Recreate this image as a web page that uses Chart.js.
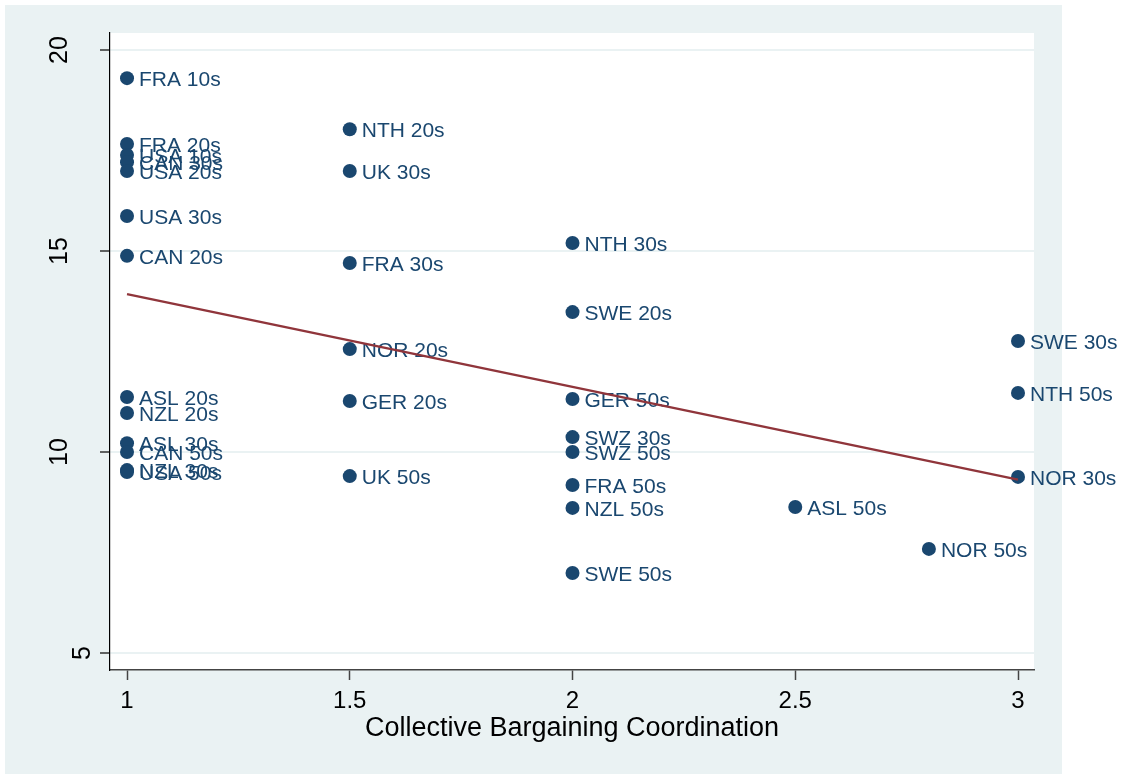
<!DOCTYPE html>
<html>
<head>
<meta charset="utf-8">
<title>Collective Bargaining Coordination</title>
<script src="https://cdn.jsdelivr.net/npm/chart.js@4.4.1/dist/chart.umd.min.js"></script>
<style>
  html, body { margin: 0; padding: 0; background: #ffffff; }
  #wrap { width: 1123px; height: 774px; }
  canvas { display: block; }
</style>
</head>
<body>
<div id="wrap"><canvas id="chart" width="1123" height="774"></canvas></div>
<script>
// Country-decade observations
const pointLabels = [
  'FRA 10s', 'FRA 20s', 'USA 10s', 'CAN 30s', 'USA 20s', 'USA 30s', 'CAN 20s',
  'ASL 20s', 'NZL 20s', 'ASL 30s', 'CAN 50s', 'NZL 30s', 'USA 50s',
  'NTH 20s', 'UK 30s', 'FRA 30s', 'NOR 20s', 'GER 20s', 'UK 50s',
  'NTH 30s', 'SWE 20s', 'GER 50s', 'SWZ 30s', 'SWZ 50s', 'FRA 50s', 'NZL 50s', 'SWE 50s',
  'ASL 50s', 'NOR 50s',
  'SWE 30s', 'NTH 50s', 'NOR 30s'
];
const coordination = [
  1, 1, 1, 1, 1, 1, 1,
  1, 1, 1, 1, 1, 1,
  1.5, 1.5, 1.5, 1.5, 1.5, 1.5,
  2, 2, 2, 2, 2, 2, 2, 2,
  2.5, 2.8,
  3, 3, 3
];
const outcome = [
  19.30, 17.66, 17.39, 17.21, 16.99, 15.87, 14.88,
  11.37, 10.97, 10.22, 10.00, 9.55, 9.50,
  18.03, 16.99, 14.70, 12.56, 11.27, 9.40,
  15.20, 13.48, 11.32, 10.37, 10.00, 9.18, 8.61, 6.99,
  8.63, 7.59,
  12.76, 11.47, 9.38
];

// Axis ticks
const xTickValues = [1, 1.5, 2, 2.5, 3];
const xTickLabels = ['1', '1.5', '2', '2.5', '3'];
const yTickValues = [5, 10, 15, 20];
const yTickLabels = ['5', '10', '15', '20'];

// Least-squares fit of outcome on coordination
function linearFit(xs, ys) {
  const n = xs.length;
  const mx = xs.reduce((a, b) => a + b, 0) / n;
  const my = ys.reduce((a, b) => a + b, 0) / n;
  let sxy = 0, sxx = 0;
  for (let i = 0; i < n; i++) {
    sxy += (xs[i] - mx) * (ys[i] - my);
    sxx += (xs[i] - mx) * (xs[i] - mx);
  }
  const b = sxy / sxx;
  return { a: my - b * mx, b: b };
}
const fit = linearFit(coordination, outcome);
const xMin = Math.min(...coordination), xMax = Math.max(...coordination);
const fitLine = [xMin, xMax].map(x => ({ x: x, y: fit.a + fit.b * x }));

const navy = '#1a476f';
const maroon = '#90353b';
const regionBg = '#eaf2f3';
const FONT = '"Liberation Sans", Arial, Helvetica, sans-serif';

// Backgrounds: outer graph region and white plot region
const backgroundPlugin = {
  id: 'regions',
  beforeDraw(chart) {
    const ctx = chart.ctx, a = chart.chartArea;
    ctx.save();
    ctx.fillStyle = '#ffffff';
    ctx.fillRect(0, 0, chart.width, chart.height);
    ctx.fillStyle = regionBg;
    ctx.fillRect(5, 5, 1057, chart.height - 5);
    ctx.fillStyle = '#ffffff';
    ctx.fillRect(a.left, a.top, a.right - a.left, a.bottom - a.top);
    ctx.restore();
  }
};

// Marker labels placed to the right of each point
const markerLabelPlugin = {
  id: 'markerLabels',
  afterDatasetDraw(chart, args) {
    if (args.index !== 0) return;
    const ctx = chart.ctx;
    const meta = args.meta;
    ctx.save();
    ctx.font = '21px ' + FONT;
    ctx.fillStyle = navy;
    ctx.textAlign = 'left';
    ctx.textBaseline = 'middle';
    meta.data.forEach((el, i) => {
      ctx.fillText(pointLabels[i], el.x + 12, el.y + 2);
    });
    ctx.restore();
  }
};

// Vertical (rotated) y-axis tick labels
const yLabelPlugin = {
  id: 'yLabels',
  afterDraw(chart) {
    const ctx = chart.ctx, ys = chart.scales.y;
    ctx.save();
    ctx.font = '25px ' + FONT;
    ctx.fillStyle = '#000000';
    ctx.textAlign = 'center';
    ctx.textBaseline = 'alphabetic';
    yTickValues.forEach((v, i) => {
      const txt = yTickLabels[i];
      const w = ctx.measureText(txt).width;
      const baseX = ys.right - 10 - 1.65 * w + 13;
      const py = ys.getPixelForValue(v);
      ctx.save();
      ctx.translate(baseX, py);
      ctx.rotate(-Math.PI / 2);
      ctx.fillText(txt, 0, 0);
      ctx.restore();
    });
    ctx.restore();
  }
};

new Chart(document.getElementById('chart'), {
  type: 'scatter',
  data: {
    datasets: [
      {
        label: 'Observed',
        data: coordination.map((x, i) => ({ x: x, y: outcome[i] })),
        backgroundColor: navy,
        borderWidth: 0,
        pointRadius: 7,
        pointHoverRadius: 7,
        order: 1
      },
      {
        label: 'Fitted values',
        data: fitLine,
        showLine: true,
        borderColor: maroon,
        borderWidth: 2.5,
        pointRadius: 0,
        fill: false,
        order: 0
      }
    ]
  },
  options: {
    responsive: false,
    animation: false,
    devicePixelRatio: 1,
    layout: { padding: { left: 0, top: 33, right: 89, bottom: 0 } },
    plugins: {
      legend: { display: false },
      tooltip: { enabled: false },
      title: { display: false }
    },
    scales: {
      x: {
        type: 'linear',
        min: 0.9618,
        max: 3.0359,
        afterBuildTicks(scale) { scale.ticks = xTickValues.map(v => ({ value: v })); },
        afterFit(scale) { scale.height = 104; },
        ticks: {
          callback(value) {
            const i = xTickValues.indexOf(value);
            return i >= 0 ? xTickLabels[i] : '';
          },
          font: { family: FONT, size: 24 },
          color: '#000000',
          padding: 7,
          maxRotation: 0,
          autoSkip: false
        },
        grid: {
          drawOnChartArea: false,
          drawTicks: true,
          tickLength: 10,
          tickColor: '#444444',
          tickWidth: 1.5
        },
        border: { display: true, color: '#444444', width: 1.5 },
        title: {
          display: true,
          text: 'Collective Bargaining Coordination',
          font: { family: FONT, size: 27 },
          color: '#000000',
          padding: { top: 0, bottom: 29 }
        }
      },
      y: {
        type: 'linear',
        min: 4.577,
        max: 20.423,
        afterBuildTicks(scale) { scale.ticks = yTickValues.map(v => ({ value: v })); },
        afterFit(scale) { scale.width = 110; },
        ticks: { display: false },
        grid: {
          color: regionBg,
          lineWidth: 2,
          drawTicks: true,
          tickLength: 10,
          tickColor: '#000000',
          tickWidth: 1.2
        },
        border: { display: true, color: '#000000', width: 1.2 }
      }
    }
  },
  plugins: [backgroundPlugin, markerLabelPlugin, yLabelPlugin]
});
</script>
</body>
</html>
